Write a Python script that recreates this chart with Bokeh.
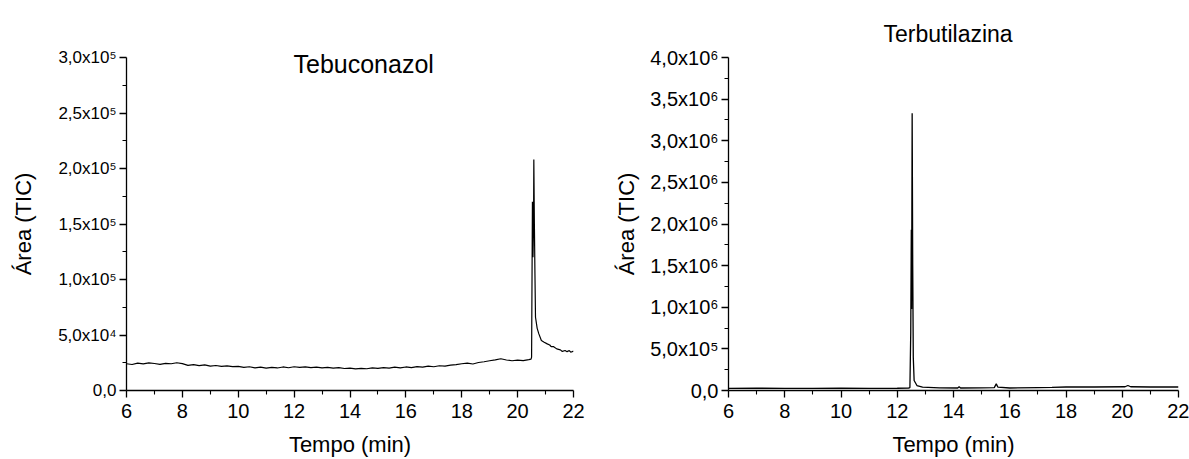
from bokeh.plotting import figure
from bokeh.layouts import row
from bokeh.models import FixedTicker, Range1d
from bokeh.embed import file_html
from bokeh.resources import INLINE

FONT = "Liberation Sans"

# ---------------- data ----------------
x_ticks = [6, 8, 10, 12, 14, 16, 18, 20, 22]
x_minor = [7, 9, 11, 13, 15, 17, 19, 21]

tebu_yticks = [0, 50000, 100000, 150000, 200000, 250000, 300000]
tebu_ylabels = ["0,0", "5,0x10⁴", "1,0x10⁵", "1,5x10⁵", "2,0x10⁵", "2,5x10⁵", "3,0x10⁵"]
tebu_yminor = [25000, 75000, 125000, 175000, 225000, 275000]

terb_yticks = [0, 500000, 1000000, 1500000, 2000000, 2500000, 3000000, 3500000, 4000000]
terb_ylabels = ["0,0", "5,0x10⁵", "1,0x10⁶", "1,5x10⁶", "2,0x10⁶", "2,5x10⁶",
                "3,0x10⁶", "3,5x10⁶", "4,0x10⁶"]
terb_yminor = [250000, 750000, 1250000, 1750000, 2250000, 2750000, 3250000, 3750000]

# Tebuconazol chromatogram (time in min, area in thousands)
tebu_time = [6.0, 6.2, 6.4, 6.6, 6.8, 7.0, 7.2, 7.4, 7.6, 7.8, 8.0, 8.2, 8.4, 8.6, 8.8,
             9.0, 9.2, 9.4, 9.6, 9.8, 10.0, 10.2, 10.4, 10.6, 10.8, 11.0, 11.2, 11.4,
             11.6, 11.8, 12.0, 12.2, 12.4, 12.6, 12.8, 13.0, 13.2, 13.4, 13.6, 13.8,
             14.0, 14.2, 14.4, 14.6, 14.8, 15.0, 15.2, 15.4, 15.6, 15.8, 16.0, 16.2,
             16.4, 16.6, 16.8, 17.0, 17.2, 17.4, 17.6, 17.8, 18.0, 18.2, 18.4, 18.6,
             18.8, 19.0, 19.2, 19.4, 19.6, 19.8, 20.0, 20.2, 20.4, 20.48,
             20.50, 20.53, 20.55, 20.57, 20.58, 20.60, 20.62, 20.64, 20.70, 20.76,
             20.85, 20.95, 21.06, 21.15, 21.20, 21.29, 21.40, 21.53, 21.60, 21.70,
             21.77, 21.85, 21.90, 22.0]
tebu_area_k = [24.1, 23.4, 24.6, 24.0, 24.9, 24.3, 23.6, 24.5, 24.1, 25.0, 24.2, 22.6,
               23.3, 22.4, 23.1, 21.9, 22.5, 21.7, 22.2, 21.5, 21.8, 20.9, 21.4, 20.4,
               21.1, 20.2, 20.9, 20.3, 21.2, 20.5, 21.4, 20.8, 21.3, 20.6, 21.0, 20.3,
               20.8, 20.1, 20.6, 19.8, 20.2, 19.5, 20.0, 19.6, 20.3, 19.9, 20.6, 20.2,
               21.0, 20.4, 21.2, 20.6, 21.5, 21.0, 21.9, 21.4, 22.3, 22.0, 22.8, 23.3,
               24.1, 24.6, 23.9, 25.2, 25.9, 26.8, 27.6, 28.6, 27.5, 26.8, 27.3, 26.9,
               27.8, 28.2,
               30.0, 170.0, 120.0, 150.0, 208.0, 150.0, 105.0, 66.0, 56.0, 51.0,
               45.0, 43.5, 42.0, 41.0, 39.5, 39.5, 37.5, 36.6, 35.2, 36.0,
               35.0, 36.0, 34.5, 35.5]

# Terbutilazina chromatogram (time in min, area in thousands)
terb_time = [6.0, 7.0, 8.0, 9.0, 10.0, 11.0, 12.0, 12.40, 12.45, 12.48, 12.50, 12.51,
             12.53, 12.55, 12.57, 12.60, 12.70, 12.90, 13.5, 14.15, 14.2, 14.25, 15.0,
             15.45, 15.52, 15.58, 16.0, 17.0, 17.5, 18.0, 19.0, 20.1, 20.2, 20.3,
             21.0, 22.0]
terb_area_k = [25, 27, 26, 25, 27, 26, 27, 28, 35, 700, 1930, 980,
               3330, 1500, 400, 120, 60, 40, 32, 30, 45, 30, 31,
               35, 80, 40, 30, 35, 38, 42, 42, 45, 60, 45,
               42, 42]

tebu_area = [v * 1000 for v in tebu_area_k]
terb_area = [v * 1000 for v in terb_area_k]


def make_fig(width, border_left, border_right, border_bottom, y_end,
             yticks, yminor, ylabels, ytick_size, xtick_size, ylabel_standoff):
    p = figure(width=width, height=459, output_backend="svg", toolbar_location=None,
               x_range=Range1d(6, 22), y_range=Range1d(0, y_end),
               min_border_left=border_left, min_border_right=border_right,
               min_border_top=57, min_border_bottom=border_bottom)
    p.background_fill_color = "white"
    p.border_fill_color = "white"
    p.outline_line_color = None
    p.xgrid.visible = False
    p.ygrid.visible = False

    p.xaxis.ticker = FixedTicker(ticks=x_ticks, minor_ticks=x_minor)
    p.yaxis.ticker = FixedTicker(ticks=yticks, minor_ticks=yminor)
    p.yaxis.major_label_overrides = {t: l for t, l in zip(yticks, ylabels)}
    p.xaxis.major_label_overrides = {t: str(t) for t in x_ticks}

    for ax, size in ((p.xaxis, xtick_size), (p.yaxis, ytick_size)):
        ax.axis_line_color = "black"
        ax.axis_line_width = 1.3
        ax.major_tick_line_color = "black"
        ax.minor_tick_line_color = "black"
        ax.major_tick_line_width = 1.3
        ax.minor_tick_line_width = 1.1
        ax.major_tick_out = 7
        ax.major_tick_in = 0
        ax.minor_tick_out = 4
        ax.minor_tick_in = 0
        ax.major_label_text_font = FONT
        ax.major_label_text_font_size = size
        ax.major_label_text_color = "black"
        ax.axis_label_text_font = FONT
        ax.axis_label_text_font_size = "22px"
        ax.axis_label_text_font_style = "normal"
        ax.axis_label_text_color = "black"

    p.xaxis.axis_label = "Tempo (min)"
    p.yaxis.axis_label = "Área (TIC)"
    p.xaxis.major_label_standoff = 6
    p.xaxis.axis_label_standoff = 11
    p.yaxis.major_label_standoff = 3
    p.yaxis.axis_label_standoff = ylabel_standoff

    p.title.align = "left"
    p.title.text_font = FONT
    p.title.text_font_style = "normal"
    p.title.text_color = "black"
    return p


# ---------------- left panel ----------------
p1 = make_fig(590, 126, 17, 69, 300000, tebu_yticks, tebu_yminor, tebu_ylabels,
              "17px", "20px", 19)
p1.line(tebu_time, tebu_area, line_color="black", line_width=1.2)
p1.title.text = "Tebuconazol"
p1.title.text_font_size = "25px"
p1.title.offset = 167
p1.title.standoff = -40

# ---------------- right panel ----------------
p2 = make_fig(599, 138, 11, 67, 4000000, terb_yticks, terb_yminor, terb_ylabels,
              "20px", "20px", 8)
p2.line(terb_time, terb_area, line_color="black", line_width=1.3)
p2.title.text = "Terbutilazina"
p2.title.text_font_size = "23px"
p2.title.offset = 155
p2.title.standoff = 21

layout = row(p1, p2)
open("out.html", "w").write(file_html(layout, INLINE))
